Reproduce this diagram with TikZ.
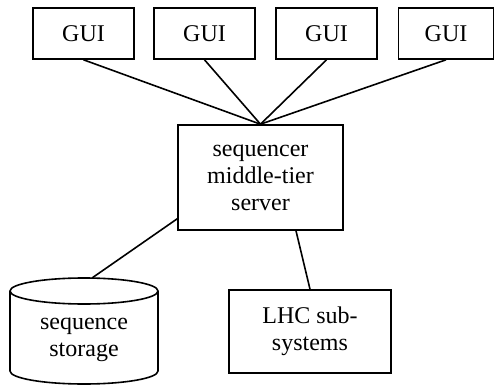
\documentclass[tikz,border=0pt]{standalone}
\usepackage{fontspec}
\setmainfont{Liberation Serif}
\begin{document}
\begin{tikzpicture}[x=1pt,y=-1pt,
  line width=1.6pt,
  box/.style={draw, rectangle, inner sep=0pt, align=center, font=\fontsize{24}{27}\selectfont},
  conn/.style={draw, line width=1.6pt}]
\useasboundingbox (0,0) rectangle (495,385);
% GUI boxes
\node[box, minimum width=101pt, minimum height=51pt] (g1) at (83.5,33.5) {GUI};
\node[box, minimum width=101pt, minimum height=51pt] (g2) at (204.5,33.5) {GUI};
\node[box, minimum width=101pt, minimum height=51pt] (g3) at (326.5,33.5) {GUI};
\node[box, minimum width=95pt, minimum height=51pt] (g4) at (446,33.5) {GUI};
% server
\node[box, minimum width=165pt, minimum height=105pt] (srv) at (260.5,177.5) {sequencer\\middle-tier\\server};
% LHC
\node[box, minimum width=162pt, minimum height=83pt] (lhc) at (310,331.5) {LHC sub-\\systems};
% cylinder
\draw (10,291) -- (10,371) arc[start angle=180, end angle=0, x radius=74, y radius=13] -- (158,291);
\draw (84,291) ellipse [x radius=74, y radius=13];
\node[font=\fontsize{24}{27}\selectfont, align=center] (stor) at (84,340) {sequence\\storage};
\coordinate (cyltop) at (92,278);
% connectors
\draw[conn] (g1.south) -- (srv.north);
\draw[conn] (g2.south) -- (srv.north);
\draw[conn] (g3.south) -- (srv.north);
\draw[conn] (g4.south) -- (srv.north);
\draw[conn] ([yshift=12pt]srv.south west) -- (cyltop);
\draw[conn] ([xshift=35.5pt]srv.south) -- (lhc.north);
\end{tikzpicture}
\end{document}
